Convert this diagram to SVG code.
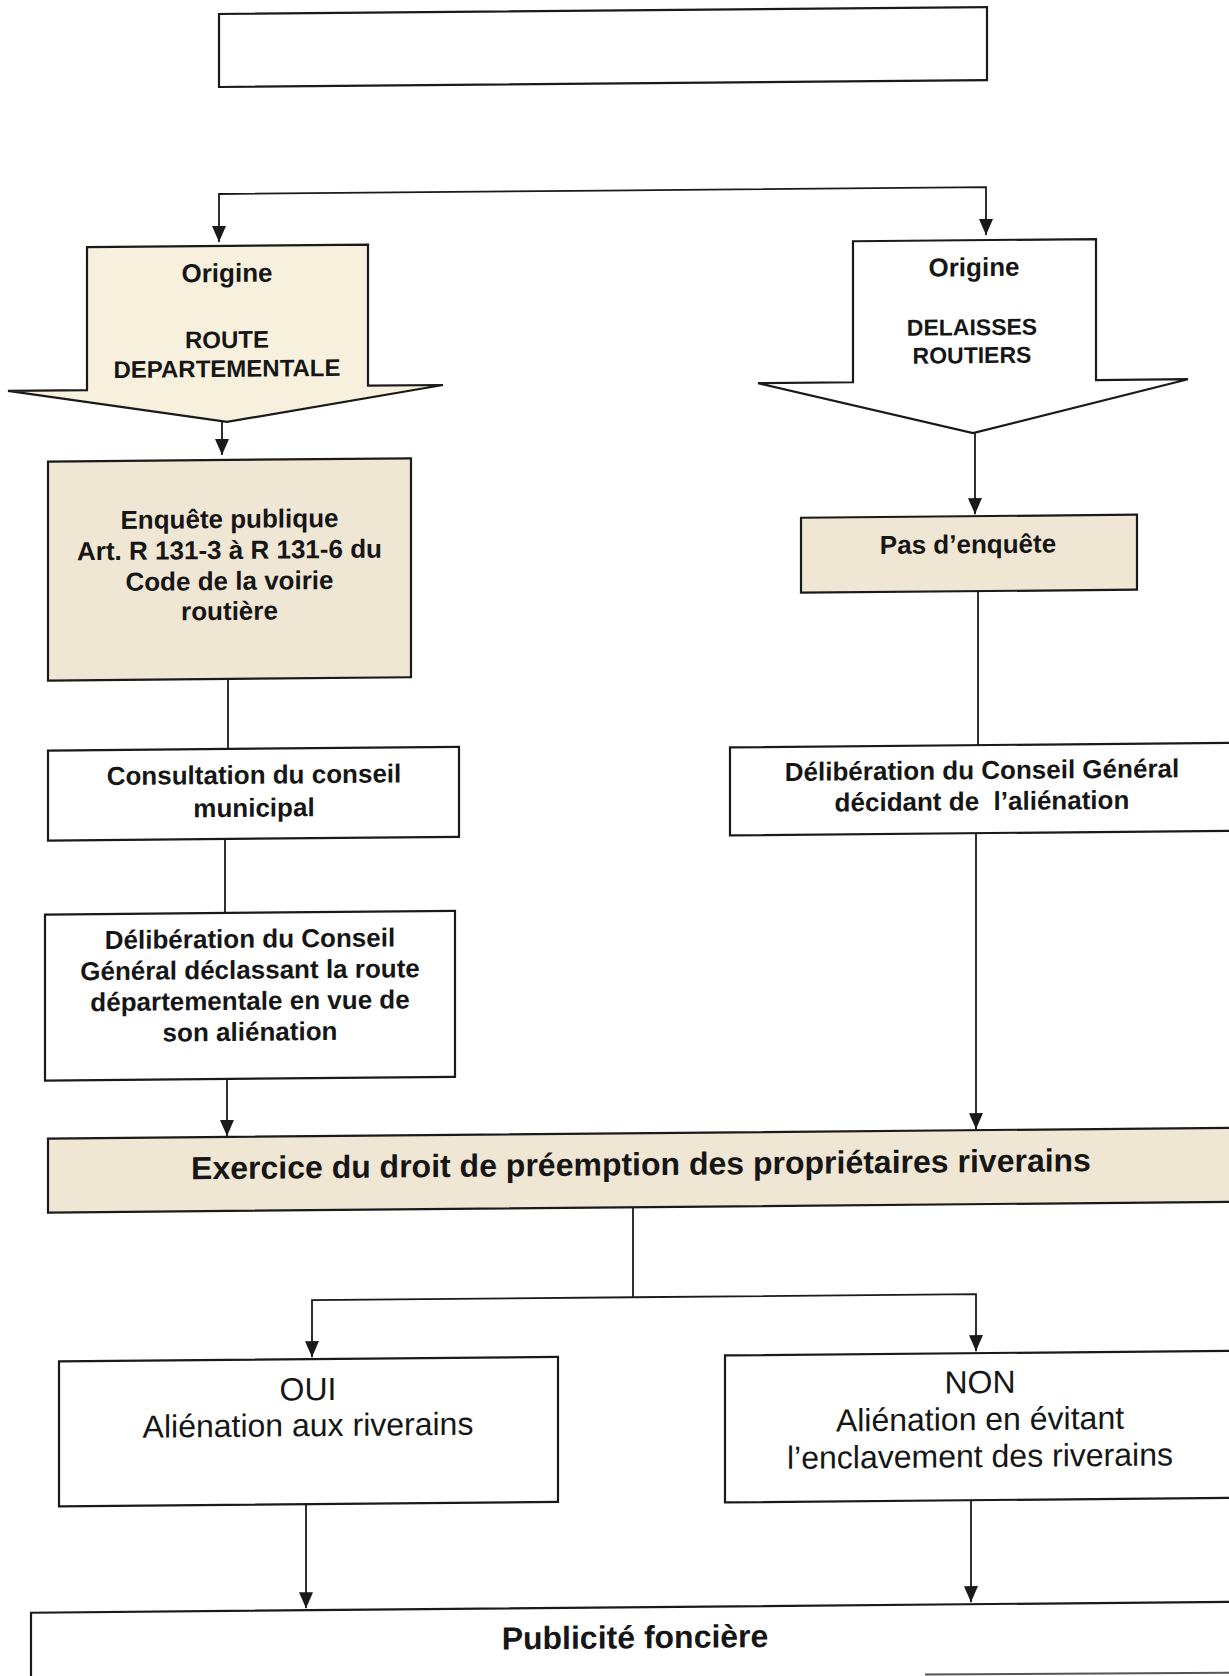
<svg xmlns="http://www.w3.org/2000/svg" width="1229" height="1676" viewBox="0 0 1229 1676">
<style>
.box{fill:#ffffff;stroke:#1a1a1a;stroke-width:2.2}
.tan{fill:#f0e6d4;stroke:#1a1a1a;stroke-width:2.2}
.yel{fill:#f6f0dc;stroke:#1a1a1a;stroke-width:2.2}
.wht{fill:#ffffff;stroke:#1a1a1a;stroke-width:2.2}
.c{fill:none;stroke:#1a1a1a;stroke-width:1.8}
.ca{fill:none;stroke:#1a1a1a;stroke-width:1.8;marker-end:url(#ah)}
text{font-family:"Liberation Sans",Arial,sans-serif;fill:#161616;text-anchor:middle}
.b26{font-size:26px;font-weight:bold}
.b24{font-size:24px;font-weight:bold}
.b23{font-size:23px;font-weight:bold}
.b32{font-size:32px;font-weight:bold}
.r32{font-size:32px}
</style>
<defs>
<marker id="ah" viewBox="0 0 16 14" refX="16" refY="7" markerWidth="16" markerHeight="14" markerUnits="userSpaceOnUse" orient="auto">
<path d="M0,0 L16,7 L0,14 z" fill="#1a1a1a"/>
</marker>
</defs>
<rect width="1229" height="1676" fill="#ffffff"/>
<g transform="skewY(-0.52)">
<g id="top-box"><rect class="box" x="219" y="16" width="768" height="73"/></g>

<g id="origine-route">
<path class="yel" d="M87,248 H368 V389 H443 L227,424 L8,391 H87 Z"/>
<text class="b26" x="227" y="284">Origine</text>
<text class="b24" x="227" y="350">ROUTE</text>
<text class="b24" x="227" y="379">DEPARTEMENTALE</text>
</g>

<g id="origine-delaisses">
<path class="wht" d="M853,249 H1096 V390 H1188 L973,442 L758,390 H853 Z"/>
<text class="b26" x="974" y="285">Origine</text>
<text class="b23" x="972" y="344">DELAISSES</text>
<text class="b23" x="972" y="372">ROUTIERS</text>
</g>

<g id="enquete">
<rect class="tan" x="48" y="462" width="363" height="219"/>
<text class="b26" x="229.5" y="530">Enquête publique</text>
<text class="b26" x="229.5" y="561">Art. R 131-3 à R 131-6 du</text>
<text class="b26" x="229.5" y="592">Code de la voirie</text>
<text class="b26" x="229.5" y="622">routière</text>
</g>

<g id="consultation">
<rect class="box" x="48" y="751" width="411" height="90"/>
<text class="b26" x="254" y="786">Consultation du conseil</text>
<text class="b26" x="254" y="819">municipal</text>
</g>

<g id="deliberation-declassant">
<rect class="box" x="45" y="915" width="410" height="166"/>
<text class="b26" x="250" y="950">Délibération du Conseil</text>
<text class="b26" x="250" y="981">Général déclassant la route</text>
<text class="b26" x="250" y="1012">départementale en vue de</text>
<text class="b26" x="250" y="1043">son aliénation</text>
</g>

<g id="pas-enquete">
<rect class="tan" x="801" y="525" width="336" height="75"/>
<text class="b26" x="968" y="562">Pas d’enquête</text>
</g>

<g id="deliberation-alienation">
<rect class="box" x="730" y="754" width="520" height="88"/>
<text class="b26" x="982" y="788">Délibération du Conseil Général</text>
<text class="b26" x="982" y="819" xml:space="preserve">décidant de  l’aliénation</text>
</g>

<g id="exercice">
<rect class="tan" x="48" y="1139" width="1200" height="74"/>
<text class="b32" x="641" y="1181">Exercice du droit de préemption des propriétaires riverains</text>
</g>

<g id="oui">
<rect class="box" x="59" y="1362" width="499" height="145"/>
<text class="r32" x="308" y="1403">OUI</text>
<text class="r32" x="308" y="1439">Aliénation aux riverains</text>
</g>

<g id="non">
<rect class="box" x="725" y="1362" width="520" height="147"/>
<text class="r32" x="980" y="1402">NON</text>
<text class="r32" x="980" y="1439">Aliénation en évitant</text>
<text class="r32" x="980" y="1476">l’enclavement des riverains</text>
</g>

<g id="publicite">
<rect class="box" x="31" y="1613" width="1220" height="120"/>
<text class="b32" x="635" y="1654">Publicité foncière</text>
</g>

<g id="connectors">
<path class="ca" d="M603,196 H219 V244"/>
<path class="ca" d="M603,196 H986 V244"/>
<path class="ca" d="M222,424 V457"/>
<path class="c" d="M228,681 V751"/>
<path class="c" d="M225,841 V915"/>
<path class="ca" d="M227,1081 V1138"/>
<path class="ca" d="M975,442 V523"/>
<path class="c" d="M978,600 V754"/>
<path class="ca" d="M976,842 V1138"/>
<path class="c" d="M633,1213 V1303"/>
<path class="ca" d="M633,1303 H312 V1360"/>
<path class="ca" d="M633,1303 H976 V1360"/>
<path class="ca" d="M306,1507 V1611"/>
<path class="ca" d="M971,1509 V1611"/>
</g>
<line x1="925" y1="1683" x2="1229" y2="1684" stroke="#555" stroke-width="2"/>
</g>
</svg>
